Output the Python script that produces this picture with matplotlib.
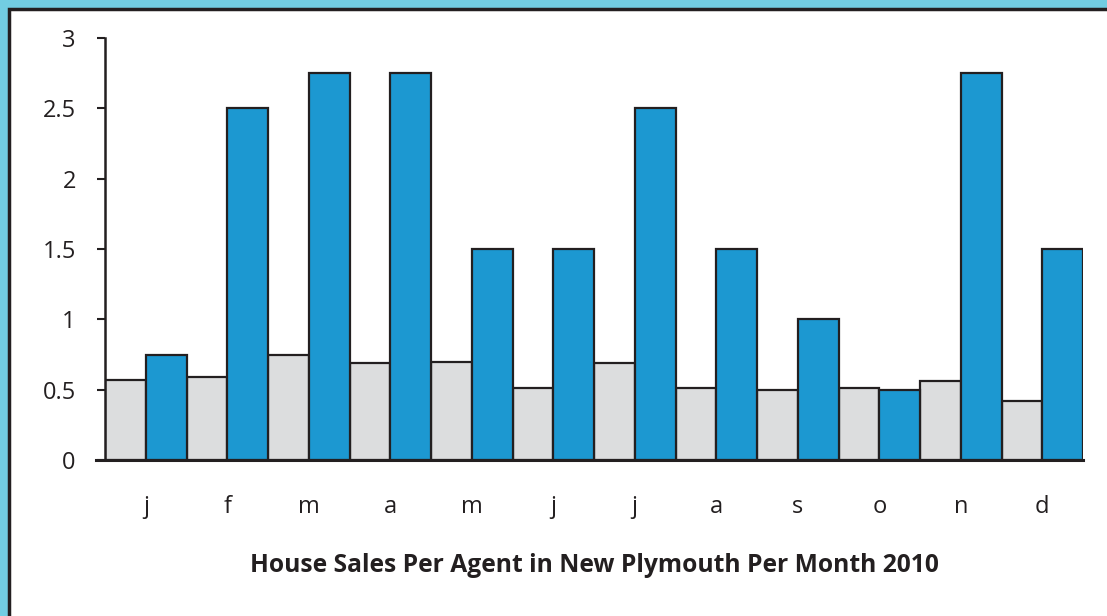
import matplotlib
matplotlib.use("Agg")
import matplotlib.pyplot as plt
from matplotlib.patches import Rectangle
import numpy as np

months = ["j", "f", "m", "a", "m", "j", "j", "a", "s", "o", "n", "d"]
gray_values = [0.57, 0.59, 0.75, 0.69, 0.70, 0.51, 0.69, 0.51, 0.50, 0.51, 0.56, 0.42]
blue_values = [0.75, 2.5, 2.75, 2.75, 1.5, 1.5, 2.5, 1.5, 1.0, 0.5, 2.75, 1.5]
yticks = [0, 0.5, 1, 1.5, 2, 2.5, 3]
ytick_labels = ["0", "0.5", "1", "1.5", "2", "2.5", "3"]
title = "House Sales Per Agent in New Plymouth Per Month 2010"

W, H = 1107, 616
fig = plt.figure(figsize=(W / 100, H / 100), dpi=100)
fig.patch.set_facecolor("#72CDE2")

# inner white panel with dark border
fig.patches.append(Rectangle((8.5 / W, -0.1), 1.2, (H - 8.5) / H + 0.1,
                             transform=fig.transFigure, facecolor="white",
                             edgecolor="#231F20", linewidth=2.5, zorder=-10))

ax = fig.add_axes([105 / W, (H - 460) / H, (1083 - 105) / W, (460 - 38) / H])
ax.set_zorder(5)
ax.set_facecolor("none")
x = np.arange(len(months))
ec = "#231F20"
ax.bar(x - 0.25, gray_values, width=0.5, color="#DCDDDE", edgecolor=ec, linewidth=1.6, zorder=2)
ax.bar(x + 0.25, blue_values, width=0.5, color="#1C98D1", edgecolor=ec, linewidth=1.6, zorder=2)

ax.set_xlim(-0.5, len(months) - 0.5)
ax.set_ylim(0, 3)
ax.set_yticks(yticks)
ax.set_yticklabels(ytick_labels)
ax.set_xticks(x)
ax.set_xticklabels(months)

font = "Open Sans"
for lbl in ax.get_yticklabels():
    lbl.set_fontfamily(font)
    lbl.set_fontsize(17)
    lbl.set_color("#231F20")
for lbl in ax.get_xticklabels():
    lbl.set_fontfamily(font)
    lbl.set_fontsize(17)
    lbl.set_color("#231F20")

ax.tick_params(axis="y", length=6, width=1.5, color=ec, pad=15, direction="out")
ax.tick_params(axis="x", length=0, pad=25)
for s in ["top", "right"]:
    ax.spines[s].set_visible(False)
ax.spines["left"].set_color(ec)
ax.spines["left"].set_linewidth(1.8)
ax.spines["bottom"].set_color(ec)
ax.spines["bottom"].set_linewidth(2.2)
ax.spines["bottom"].set_bounds(-0.5 - 9 / 81.5, len(months) - 0.5)

ax.set_xlabel(title, fontfamily=font, fontweight="bold", fontsize=17.7,
              color="#231F20", labelpad=25)

fig.savefig("out.png", dpi=100, facecolor=fig.get_facecolor())
